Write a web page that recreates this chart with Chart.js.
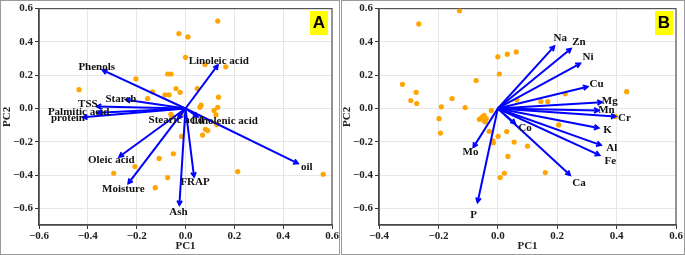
<!DOCTYPE html>
<html>
<head>
<meta charset="utf-8">
<script src="https://cdn.jsdelivr.net/npm/chart.js@4.4.1/dist/chart.umd.min.js"></script>
<style>
  body { margin: 0; background: #fff; }
  #wrap { position: relative; width: 685px; height: 255px; overflow: hidden; }
  canvas { position: absolute; top: 0; }
  .frame { position: absolute; top: 0; height: 255px; border: 1px solid #9a9a9a; box-sizing: border-box; pointer-events: none; }
  .tag { position: absolute; top: 11px; width: 18px; height: 24px; background: #ffff00; color: #000;
         font: bold 17px "Liberation Sans", Arial, sans-serif; line-height: 24px; text-align: center; }
</style>
</head>
<body>
<div id="wrap">
  <canvas id="chartA" style="left:0px"></canvas>
  <canvas id="chartB" style="left:340px"></canvas>
  <div class="frame" style="left:0px;width:340px"></div>
  <div class="frame" style="left:341px;width:344px"></div>
  <div class="tag" style="left:310px">A</div>
  <div class="tag" style="left:655px">B</div>
</div>
<script>
// ---- panel A: individuals (PC1, PC2) ----
const indAx = [-0.436, -0.203, -0.155, -0.135, -0.084, -0.067, -0.073, -0.059, -0.039, -0.022,
  -0.027, 0.01, 0.132, 0.0, 0.08, 0.165, 0.048, 0.135, 0.064, 0.059,
  0.132, 0.117, 0.125, -0.06, -0.057, -0.016, 0.082, 0.091, 0.07, -0.016,
  -0.05, -0.108, -0.207, -0.294, -0.073, -0.124, 0.214, 0.564, 0.128];
const indAy = [0.113, 0.178, 0.06, 0.10, 0.082, 0.082, 0.207, 0.207, 0.12, 0.097,
  0.45, 0.43, 0.525, 0.307, 0.264, 0.25, 0.12, 0.068, 0.02, 0.008,
  0.007, -0.012, -0.038, -0.035, -0.045, -0.04, -0.125, -0.133, -0.16, -0.168,
  -0.272, -0.30, -0.349, -0.389, -0.415, -0.476, -0.379, -0.395, -0.097];

// ---- panel A: variables ----
const varA = ["Phenols", "Starch", "TSS", "Palmitic acid", "protein", "Linoleic acid", "Stearic acid",
  "Linolenic acid", "Oleic acid", "Moisture", "Ash", "FRAP", "oil"];
const loadAx = [-0.339, -0.244, -0.363, -0.36, -0.42, 0.132, -0.03, 0.05, -0.271, -0.234, -0.025, 0.035, 0.46];
const loadAy = [0.23, 0.052, 0.012, -0.025, -0.053, 0.26, -0.06, -0.05, -0.29, -0.45, -0.58, -0.41, -0.33];

// ---- panel B: individuals ----
const indBx = [-0.129, -0.266, 0.0, 0.032, 0.062, 0.005, -0.073, -0.321, -0.275, -0.293,
  -0.273, -0.154, -0.19, -0.11, -0.022, -0.198, -0.062, -0.054, -0.046, -0.047,
  -0.039, -0.043, -0.193, 0.145, 0.168, 0.064, -0.029, 0.001, 0.03, -0.017,
  -0.015, 0.055, 0.1, 0.034, 0.022, 0.008, 0.205, 0.434, 0.227, 0.396, 0.16];
const indBy = [0.587, 0.508, 0.31, 0.326, 0.34, 0.207, 0.168, 0.145, 0.097, 0.048,
  0.03, 0.06, 0.01, 0.006, -0.012, -0.061, -0.065, -0.054, -0.042, -0.07,
  -0.061, -0.08, -0.148, 0.042, 0.042, 0.052, -0.137, -0.167, -0.139, -0.194,
  -0.206, -0.202, -0.226, -0.288, -0.389, -0.415, -0.099, 0.101, 0.088, -0.048, -0.385];

// ---- panel B: variables ----
const varB = ["Na", "Zn", "Ni", "Cu", "Mg", "Mn", "Cr", "K", "Al", "Fe", "Ca", "Co", "Mo", "P"];
const loadBx = [0.19, 0.246, 0.277, 0.302, 0.35, 0.339, 0.396, 0.339, 0.347, 0.342, 0.243, 0.058, -0.082, -0.068];
const loadBy = [0.373, 0.359, 0.27, 0.131, 0.0375, -0.012, -0.048, -0.117, -0.22, -0.28, -0.40, -0.09, -0.232, -0.563];

// axis ticks
const xTicksA = [-0.6, -0.4, -0.2, 0, 0.2, 0.4, 0.6];
const xTicksB = [-0.4, -0.2, 0, 0.2, 0.4, 0.6];
const yTicks = [-0.6, -0.4, -0.2, 0, 0.2, 0.4, 0.6];

// label nudges in px from the arrow tip (layout only)
const nudgeA = [[-6, -3], [-5, -1], [-9, -2], [-19, -0.5], [-15, 1], [1, -4], [-2, 2], [27, 4], [-8, 3], [-5, 6], [-1, 7], [1, 5], [9, 4]];
const nudgeB = [[6, -8], [8, -7], [8, -6], [9, -3], [8, -1], [8, 0], [9, 2], [9, 2], [11, 3], [11, 6], [9, 8], [10, 5], [-3, 5], [-4, 13]];

const serif = '"Liberation Serif", "DejaVu Serif", serif';

function fmt(v) {
  const s = Math.abs(v).toFixed(1);
  return v < -1e-9 ? "\u2212" + s : s;
}

const biplotDecor = {
  id: "biplotDecor",
  beforeDatasetsDraw(chart) {
    const a = chart.chartArea;
    const ctx = chart.ctx;
    ctx.save();
    ctx.strokeStyle = "#555";
    ctx.lineWidth = 1.2;
    ctx.strokeRect(a.left, a.top, a.right - a.left, a.bottom - a.top);
    ctx.restore();
  },
  afterDatasetsDraw(chart) {
    const ctx = chart.ctx;
    ctx.save();
    chart.data.datasets.forEach(function (ds, i) {
      if (!ds.arrowName) return;
      const pts = chart.getDatasetMeta(i).data;
      const p0 = pts[0], p1 = pts[1];
      const ang = Math.atan2(p1.y - p0.y, p1.x - p0.x);
      const len = 5;
      ctx.strokeStyle = "#0000ff";
      ctx.lineWidth = 2;
      ctx.beginPath();
      ctx.moveTo(p1.x - len * Math.cos(ang - 0.5), p1.y - len * Math.sin(ang - 0.5));
      ctx.lineTo(p1.x, p1.y);
      ctx.lineTo(p1.x - len * Math.cos(ang + 0.5), p1.y - len * Math.sin(ang + 0.5));
      ctx.stroke();
      ctx.fillStyle = "#111";
      ctx.font = "bold 11px " + serif;
      ctx.textAlign = "center";
      ctx.textBaseline = "middle";
      ctx.fillText(ds.arrowName, p1.x + ds.nudge[0], p1.y + ds.nudge[1]);
    });
    ctx.restore();
  },
};

function makeChart(id, width, ix, iy, names, lx, ly, nudge, xMin, xMax, xTicks, padRight) {
  const canvas = document.getElementById(id);
  canvas.width = width;
  canvas.height = 255;
  canvas.style.width = width + "px";
  canvas.style.height = "255px";

  const datasets = [{
    data: ix.map((x, k) => ({ x: x, y: iy[k] })),
    backgroundColor: "#ffa500",
    borderWidth: 0,
    pointRadius: 2.6,
    order: 5,
  }];
  names.forEach(function (n, k) {
    datasets.push({
      data: [{ x: 0, y: 0 }, { x: lx[k], y: ly[k] }],
      showLine: true,
      borderColor: "#0000ff",
      borderWidth: 2,
      pointRadius: 0,
      fill: false,
      order: 1,
      arrowName: n,
      nudge: nudge[k],
    });
  });

  const tickFont = { family: serif, size: 11, weight: "bold" };
  return new Chart(canvas, {
    type: "scatter",
    data: { datasets: datasets },
    plugins: [biplotDecor],
    options: {
      responsive: false,
      animation: false,
      layout: { padding: { top: 6, right: padRight, bottom: 0, left: 0 } },
      plugins: { legend: { display: false }, tooltip: { enabled: false } },
      scales: {
        x: {
          type: "linear",
          min: xMin,
          max: xMax,
          afterBuildTicks: function (s) { s.ticks = xTicks.map(v => ({ value: v })); },
          afterFit: function (s) { s.height = 30; },
          ticks: { font: tickFont, color: "#222", padding: 1, maxRotation: 0, callback: v => fmt(v) },
          grid: { color: "#e6e6e6", tickColor: "#333", tickLength: 4 },
          border: { color: "#333", width: 1.5 },
          title: { display: true, text: "PC1", font: tickFont, color: "#222", padding: { top: 0, bottom: 2 } },
        },
        y: {
          type: "linear",
          min: -0.7,
          max: 0.6,
          afterBuildTicks: function (s) { s.ticks = yTicks.map(v => ({ value: v })); },
          afterFit: function (s) { s.width = 39; },
          ticks: { font: tickFont, color: "#222", padding: 2, callback: v => fmt(v) },
          grid: { color: "#e6e6e6", tickColor: "#333", tickLength: 4 },
          border: { color: "#333", width: 1.5 },
          title: { display: true, text: "PC2", font: tickFont, color: "#222", padding: { top: 1, bottom: 0 } },
        },
      },
    },
  });
}

makeChart("chartA", 340, indAx, indAy, varA, loadAx, loadAy, nudgeA, -0.6, 0.6, xTicksA, 8);
makeChart("chartB", 345, indBx, indBy, varB, loadBx, loadBy, nudgeB, -0.4, 0.6, xTicksB, 9);
</script>
</body>
</html>
